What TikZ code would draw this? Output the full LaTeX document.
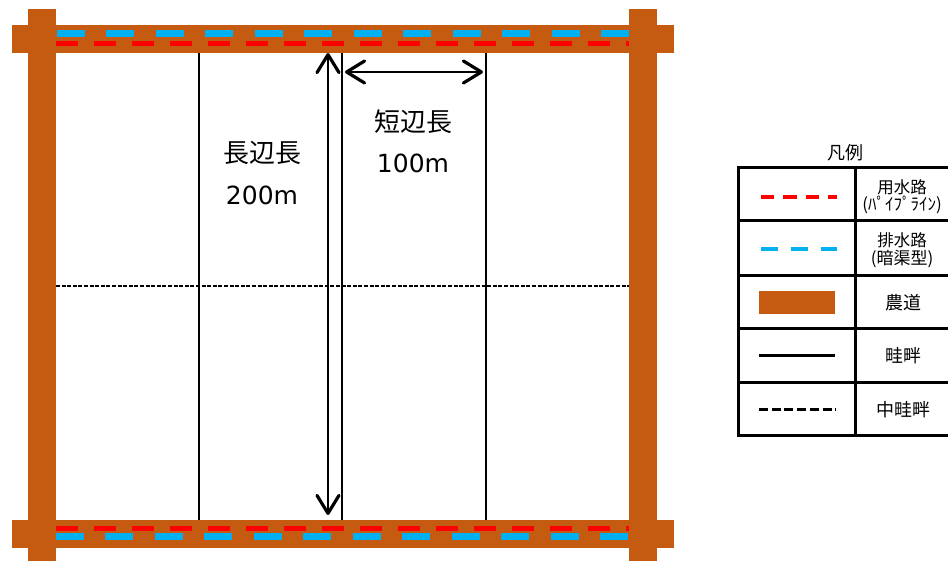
\documentclass[tikz,border=0pt]{standalone}
\usepackage{fontspec}
\setmainfont{Noto Sans CJK JP}
\newfontfamily\latinf{DejaVu Sans}
\usetikzlibrary{arrows.meta}
\definecolor{roadc}{RGB}{197,90,17}
\definecolor{bluec}{RGB}{0,176,240}
\definecolor{redc}{RGB}{255,0,0}
\tikzset{
  road/.style={fill=roadc,draw=none},
  ridge/.style={draw=black,line width=2pt},
  midridge/.style={draw=black,line width=1.5pt,dash pattern=on 4pt off 1.6pt},
  redpipe/.style={draw=redc,line width=5pt,dash pattern=on 22pt off 16pt},
  bluepipe/.style={draw=bluec,line width=7pt,dash pattern=on 28pt off 21.5pt},
  dimarrow/.style={draw=black,line width=2.5pt,{Straight Barb[length=18pt,width=22pt,round,line width=3.2pt]}-{Straight Barb[length=18pt,width=22pt,round,line width=3.2pt]}},
  bigtext/.style={font=\fontsize{26}{30}\selectfont,inner sep=0pt,anchor=center},
  legtext/.style={font=\fontsize{16.5}{18}\selectfont,inner sep=0pt,anchor=center},
  leglarge/.style={font=\fontsize{18}{20}\selectfont,inner sep=0pt,anchor=center},
  legsmall/.style={font=\fontsize{17}{18}\selectfont,inner sep=0pt,anchor=center},
  legframe/.style={draw=black,line width=3pt},
}
\begin{document}
\begin{tikzpicture}[x=1pt,y=-1pt]
\useasboundingbox (0,0) rectangle (948,561);
\clip (0,0) rectangle (948,561);
% field boundaries
\coordinate (r1t) at (199,53); \coordinate (r1b) at (199,520);
\coordinate (r2t) at (342,53); \coordinate (r2b) at (342,520);
\coordinate (r3t) at (486,53); \coordinate (r3b) at (486,520);
\coordinate (ml) at (56,286); \coordinate (mr) at (629,286);
\draw[ridge] (r1t) -- (r1b);
\draw[ridge] (r2t) -- (r2b);
\draw[ridge] (r3t) -- (r3b);
\draw[midridge] (ml) -- (mr);
% roads
\fill[road] (12,25) rectangle (674,53);
\fill[road] (12,520) rectangle (674,548);
% pipes
\coordinate (bta) at (56.5,34); \coordinate (btb) at (629,34);
\coordinate (rta) at (56,43.5); \coordinate (rtb) at (631,43.5);
\coordinate (rba) at (55.5,528.5); \coordinate (rbb) at (631,528.5);
\coordinate (bba) at (55.5,536.5); \coordinate (bbb) at (629,536.5);
\draw[bluepipe] (bta) -- (btb);
\draw[redpipe] (rta) -- (rtb);
\draw[redpipe] (rba) -- (rbb);
\draw[bluepipe] (bba) -- (bbb);
\fill[road] (28,9) rectangle (56,561);
\fill[road] (629,9) rectangle (657,561);
% dimensions
\coordinate (vt) at (328,53); \coordinate (vb) at (328,515);
\coordinate (hl) at (345,72); \coordinate (hr) at (483,72);
\draw[dimarrow] (vt) -- (vb);
\draw[dimarrow] (hl) -- (hr);
\node[bigtext] (t1) at (262,153) {長辺長};
\node[bigtext] (t2) at (262,195) {\latinf\fontsize{25}{30}\selectfont 200m};
\node[bigtext] (t3) at (413,122) {短辺長};
\node[bigtext] (t4) at (413,163) {\latinf\fontsize{25}{30}\selectfont 100m};
% legend
\node[leglarge] (lt) at (845,153) {凡例};
\draw[legframe] (738.5,168) rectangle (960,435);
\draw[legframe] (855.5,168) -- (855.5,435);
\draw[legframe] (738.5,221) -- (948,221);
\draw[legframe] (738.5,275.5) -- (948,275.5);
\draw[legframe] (738.5,328.5) -- (948,328.5);
\draw[legframe] (738.5,382.5) -- (948,382.5);
\coordinate (s1a) at (761,197); \coordinate (s1b) at (837,197);
\coordinate (s2a) at (761,249); \coordinate (s2b) at (837,249);
\coordinate (s4a) at (759,355.3); \coordinate (s4b) at (835,355.3);
\coordinate (s5a) at (759,409.3); \coordinate (s5b) at (836,409.3);
\draw[draw=redc,line width=3.5pt,dash pattern=on 13.3pt off 9pt] (s1a) -- (s1b);
\draw[draw=bluec,line width=4.5pt,dash pattern=on 17.3pt off 12.6pt] (s2a) -- (s2b);
\fill[road] (759,291) rectangle (835,314);
\draw[draw=black,line width=3pt] (s4a) -- (s4b);
\draw[draw=black,line width=3pt,dash pattern=on 9pt off 3.7pt] (s5a) -- (s5b);
\node[legtext] (a1) at (902,187) {用水路};
\node[legsmall] (a2) at (902,205) {(ﾊﾟｲﾌﾟﾗｲﾝ)};
\node[legtext] (b1) at (902,240) {排水路};
\node[legsmall] (b2) at (902,259) {(暗渠型)};
\node[leglarge] (c1) at (903,303) {農道};
\node[leglarge] (d1) at (903,356) {畦畔};
\node[leglarge] (e1) at (903,410) {中畦畔};
\end{tikzpicture}
\end{document}
